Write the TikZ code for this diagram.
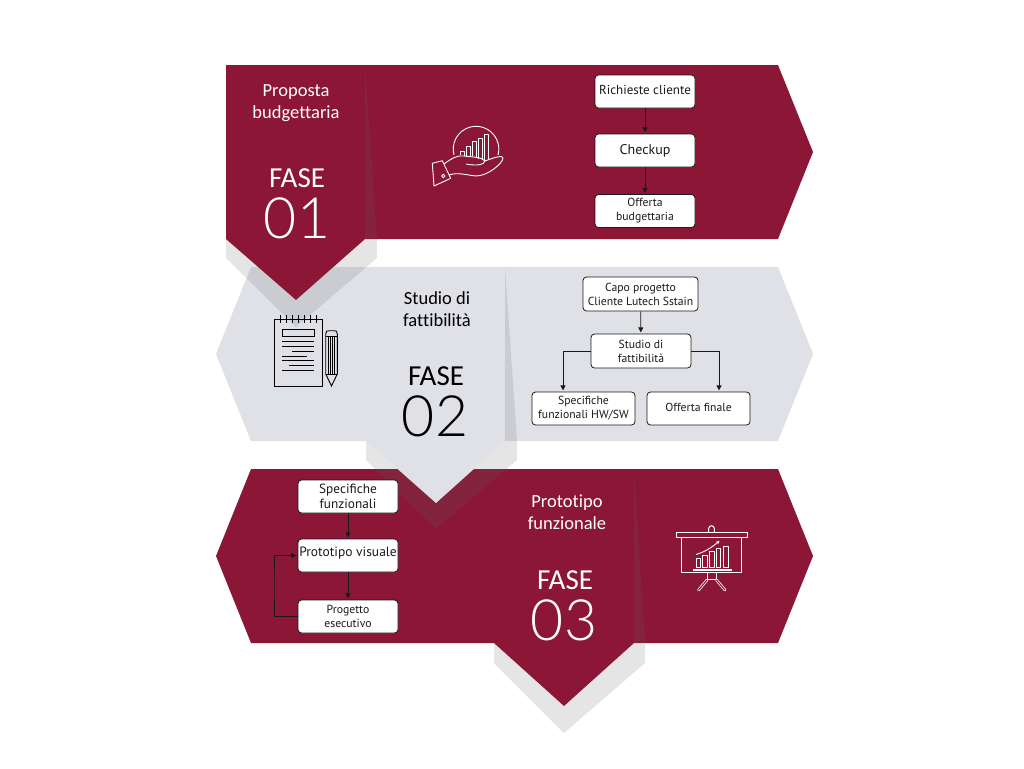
\documentclass[tikz,border=0pt]{standalone}
\usepackage{fontspec}
\usetikzlibrary{arrows.meta}
\setmainfont{Carlito}[Ligatures=NoCommon]
\newfontfamily\boxf{PT Sans}
\newfontfamily\numf{Lato Light}
\definecolor{burg}{HTML}{8B1636}
\definecolor{pale}{HTML}{E0E1E7}
\definecolor{shade}{gray}{0.40}
\definecolor{inkc}{HTML}{1A1A1A}
\tikzset{
  x=1pt,y=-1pt,
  band/.style={fill=burg,draw=none},
  paleband/.style={fill=pale,draw=none},
  shadow/.style={fill=shade,fill opacity=0.165,draw=none},
  procbox/.style={draw=inkc,line width=0.8pt,fill=white,rounded corners=3.5pt,inner sep=0pt,align=center,text=inkc,minimum height=33pt,minimum width=100pt},
  small/.style={font=\boxf\fontsize{11.7}{14}\selectfont},
  medium/.style={font=\boxf\fontsize{13}{15}\selectfont},
  link/.style={draw=inkc,line width=0.8pt,-{Triangle[length=5pt,width=5pt]},shorten >=1.2pt},
  title/.style={font=\fontsize{18.5}{22}\selectfont,align=center,inner sep=0pt},
  fase/.style={font=\fontsize{29}{29}\selectfont,inner sep=0pt},
  num/.style={font=\numf\fontsize{57}{57}\selectfont,inner sep=0pt},
  iconw/.style={draw=white,line width=0.9pt,line join=round},
  iconk/.style={draw=black,line width=0.9pt},
}
\begin{document}
\begin{tikzpicture}
\useasboundingbox (0,0) rectangle (1024,768);
\fill[white] (0,0) rectangle (1024,768);
% band 2 (under the shadow of phase 1)
\fill[paleband] (251,267) -- (778,267) -- (813,354) -- (778,441) -- (251,441) -- (216,354) -- cycle;
% band 1
\fill[shadow] (226,65) -- (365,65) -- (377,239) -- (377,258) -- (296,327) -- (226,258) -- cycle;
\fill[band] (226,65) -- (778,65) -- (813,152) -- (778,239) -- (365,239) -- (296,300) -- (226,239) -- cycle;
\fill[shadow] (365,65) -- (377,239) -- (365,239) -- cycle;
% band 3
\fill[band] (251,469) -- (778,469) -- (813,556) -- (778,643) -- (634,643) -- (564,706) -- (494,643) -- (251,643) -- (216,556) -- cycle;
\fill[shadow] (494,643) -- (494,663) -- (564,733) -- (645,663) -- (645,643) -- (634,469) -- (634,643) -- (564,706) -- cycle;
% shadow + pentagon of phase 2
\fill[shadow] (366,441) -- (366,460) -- (436,529) -- (517,460) -- (517,441) -- (505,267) -- (505,441) -- (436,503) -- cycle;
\fill[paleband] (366,441) -- (505,441) -- (436,503) -- cycle;

% titles
\node[title,text=white] (t1) at (296,103) {Proposta\\budgettaria};
\node[fase,text=white] (f1) at (297,178) {FASE};
\node[num,text=white] (n1) at (297,218) {01};
\node[title,text=black] (t2) at (437,309) {Studio di\\fattibilità};
\node[fase,text=black] (f2) at (436,376) {FASE};
\node[num,text=black] (n2) at (435,416) {02};
\node[title,text=white] (t3) at (567,512) {Prototipo\\funzionale};
\node[fase,text=white] (f3) at (565,580) {FASE};
\node[num,text=white] (n3) at (564,620) {03};

% flow 1
\node[procbox,medium,text height=9pt,text depth=3pt] (a1) at (645,91.5) {Richieste cliente};
\node[procbox,font=\boxf\fontsize{14}{15}\selectfont,text height=10pt,text depth=2pt] (a2) at (645,150.5) {Checkup};
\node[procbox,small] (a3) at (645,211) {Offerta\\budgettaria};
\draw[link] (a1) -- (a2);
\draw[link] (a2) -- (a3);
% flow 2
\node[procbox,small,minimum width=115pt,minimum height=34pt] (b1) at (640.5,294) {Capo progetto\\Cliente Lutech Sstain};
\node[procbox,small,minimum height=34pt] (b2) at (641,351) {Studio di\\fattibilità};
\node[procbox,small,minimum width=103pt] (b3) at (583.5,408.5) {Specifiche\\funzionali HW/SW};
\node[procbox,small,minimum width=103pt,text height=9pt,text depth=3pt] (b4) at (698.5,408.5) {Offerta finale};
\draw[link] (b1) -- (b2);
\draw[link] (b2.west) -| ([xshift=-20.5pt]b3.north);
\draw[link] (b2.east) -| ([xshift=20.5pt]b4.north);
% flow 3
\node[procbox,font=\boxf\fontsize{13.3}{15.5}\selectfont] (c1) at (348,496.5) {Specifiche\\funzionali};
\node[procbox,font=\boxf\fontsize{13.5}{15}\selectfont,text height=6pt,text depth=4pt] (c2) at (348,555.5) {Prototipo visuale};
\node[procbox,small] (c3) at (348,616.5) {Progetto\\esecutivo};
\coordinate (loop) at (274,585);
\draw[link] (c1) -- (c2);
\draw[link] (c2) -- (c3);
\draw[link] (c3.west) -| (loop) |- (c2.west);

% hand icon
\begin{scope}[iconw]
\draw (454,155) arc[start angle=165,end angle=375,radius=22.8];
\draw (432.3,163.3) -- (442.3,160.7) -- (450.7,178.3) -- (434,186) -- cycle;
\draw (443.3,176) circle[radius=1.7];
\draw (444,164) .. controls (452,158) and (458,155) .. (464,156) .. controls (472,157) and (482,157) .. (485,161) .. controls (484,165) and (476,166) .. (466,164);
\draw (485,161) .. controls (495,157) and (503,155) .. (503,158) .. controls (503,163) and (488,176) .. (476,176) .. controls (466,175) and (458,172) .. (449,175);
\draw (460,155) -- (460,151) -- (464.7,151) -- (464.7,155.5);
\draw (466,155.5) -- (466,146) -- (470.7,146) -- (470.7,156);
\draw (472,156) -- (472,141) -- (476.7,141) -- (476.7,157);
\draw (478,158.5) -- (478,138) -- (482.7,138) -- (482.7,160);
\draw (484,160.5) -- (484,134.5) -- (488.7,134.5) -- (488.7,159);
\end{scope}

% notepad icon
\begin{scope}[iconk]
\draw (274.3,319.3) rectangle (322.7,386);
\foreach \xx in {280,286,292,298,304,310,316} \draw (\xx,315) -- (\xx,322.5);
\draw (282.3,329) rectangle (314.3,336.7);
\draw (282.3,341.7) -- (314.3,341.7);
\draw (282.3,346.7) -- (314.3,346.7);
\draw (292.3,351.3) -- (314.3,351.3);
\draw (282.3,356) -- (306.7,356);
\draw (282.3,360.7) -- (314.3,360.7);
\draw (289,365.7) -- (314.3,365.7);
\draw (282.3,370.7) -- (314.3,370.7);
\draw (325.7,374) -- (325.7,334) .. controls (325.7,331) and (327,330.7) .. (329,330.7) -- (334,330.7) .. controls (336,330.7) and (337.3,331) .. (337.3,334) -- (337.3,374) -- (331.5,386) -- cycle;
\draw (325.7,336.7) -- (337.3,336.7);
\draw (325.7,374) -- (337.3,374);
\foreach \xx in {328.5,330.5,332.5,334.5} \draw (\xx,336.7) -- (\xx,374);
\end{scope}

% presentation icon
\begin{scope}[iconw,line width=1pt]
\draw (676,532.3) rectangle (747.3,537.3);
\draw (708.7,532.3) -- (708.7,528.5) arc[start angle=180,end angle=360,radius=2.8] -- (714.3,532.3);
\draw (681.7,537.3) rectangle (741.7,572.7);
\draw (696,558) rectangle (700.7,567.5);
\draw (702.7,555) rectangle (707.3,567.5);
\draw (709.3,551) rectangle (714,567.5);
\draw (716,548) rectangle (720.7,567.5);
\draw (723,546) rectangle (728,567.5);
\draw[line width=1.4pt] (692.7,570) -- (731.7,570);
\draw[line width=0.9pt,-{Stealth[length=3.5pt,width=3.5pt]}] (696,554.5) .. controls (706,551.5) and (712,547) .. (719.5,541);
\draw (707.3,572.7) -- (707.3,579) -- (716,579) -- (716,572.7);
\draw[double=burg,double distance=1.1pt,line width=0.8pt,line cap=round] (707,580) -- (698.5,590);
\draw[double=burg,double distance=1.1pt,line width=0.8pt,line cap=round] (716.5,580) -- (725,590);
\end{scope}
\end{tikzpicture}
\end{document}
